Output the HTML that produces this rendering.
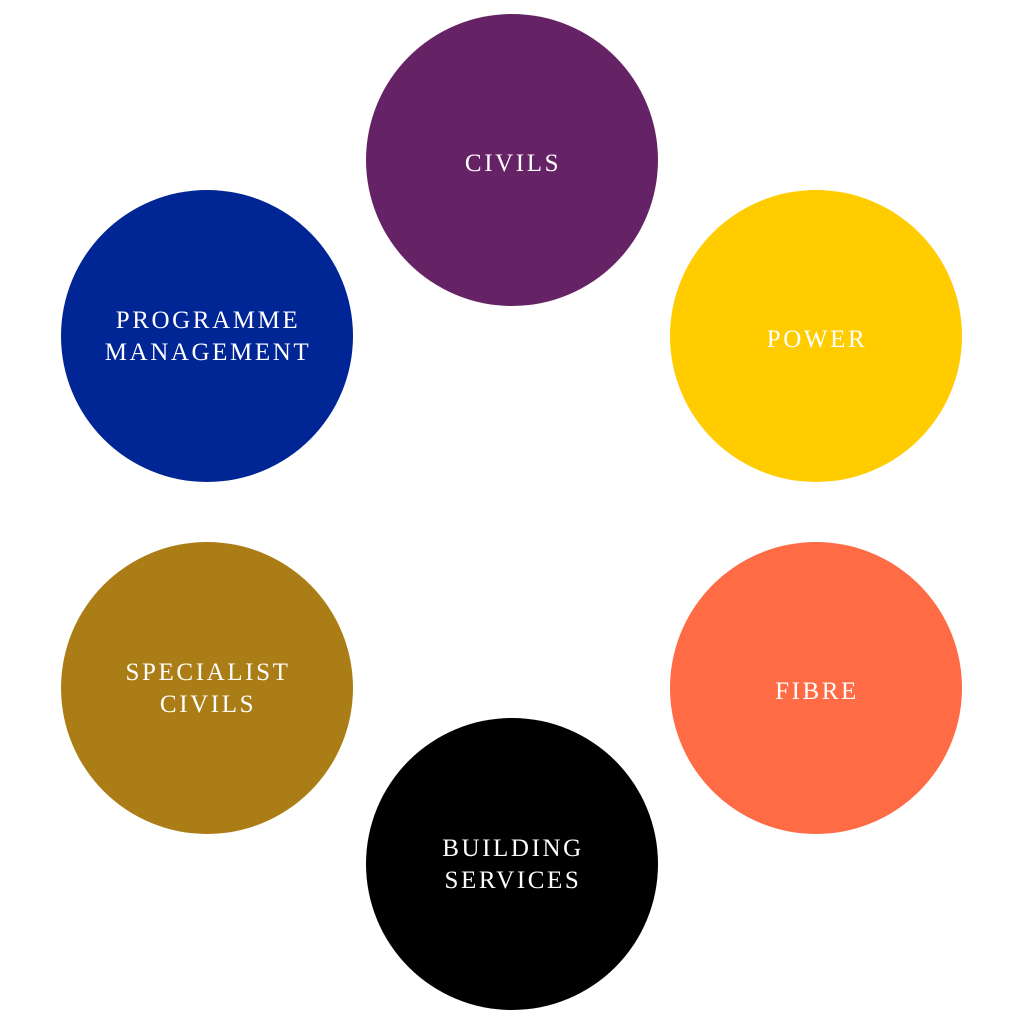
<!DOCTYPE html>
<html><head><style>
html,body{margin:0;padding:0;background:#fff;}
svg text{font-family:"Liberation Serif",serif;font-size:25px;fill:#fff;letter-spacing:2.6px;text-anchor:middle;}
</style></head><body>
<svg width="1024" height="1024" viewBox="0 0 1024 1024">
<circle cx="512" cy="160" r="146" fill="#652365"/>
<circle cx="816" cy="336" r="146" fill="#FFCC00"/>
<circle cx="816" cy="688" r="146" fill="#FF6B45"/>
<circle cx="512" cy="864" r="146" fill="#000000"/>
<circle cx="207" cy="688" r="146" fill="#AB7D16"/>
<circle cx="207" cy="336" r="146" fill="#002594"/>
<text x="513" y="171">CIVILS</text>
<text x="817" y="347">POWER</text>
<text x="817" y="699">FIBRE</text>
<text x="513" y="856">BUILDING</text>
<text x="513" y="888">SERVICES</text>
<text x="208" y="680">SPECIALIST</text>
<text x="208" y="712">CIVILS</text>
<text x="208" y="328">PROGRAMME</text>
<text x="208" y="360">MANAGEMENT</text>
</svg>
</body></html>
